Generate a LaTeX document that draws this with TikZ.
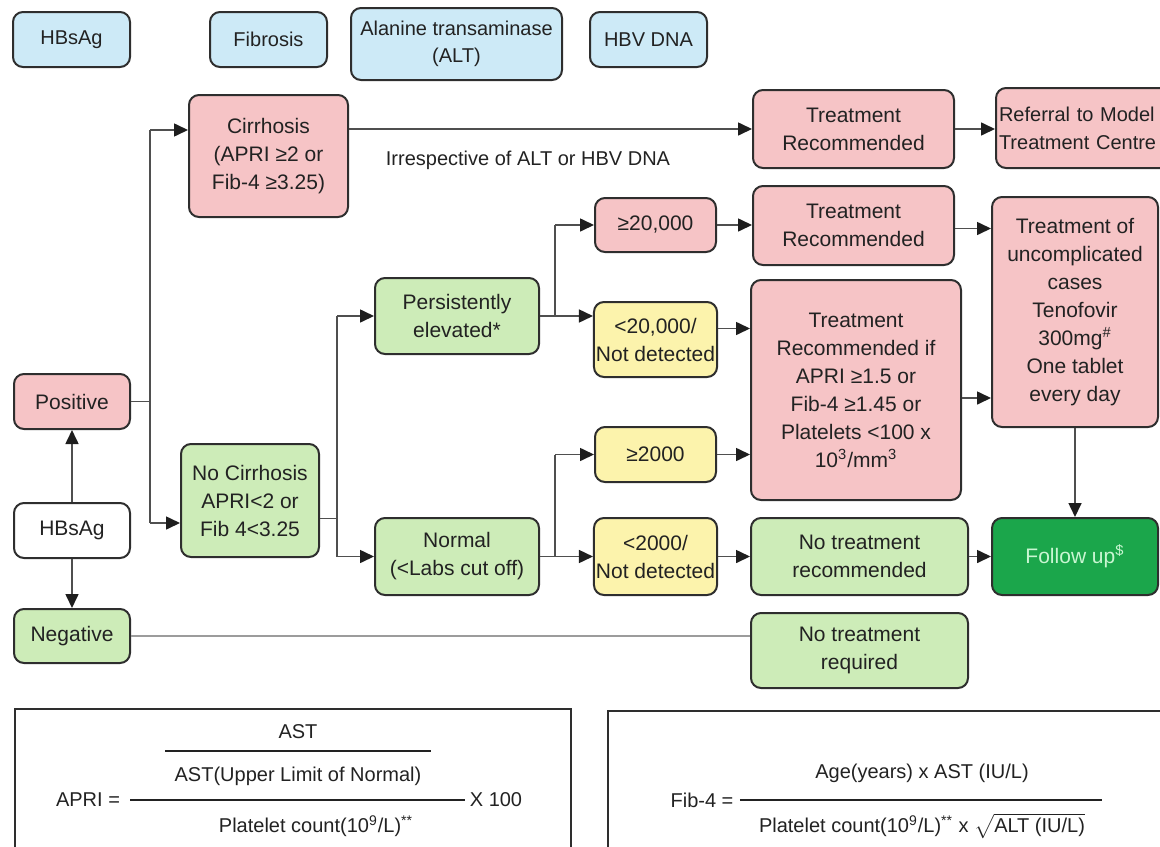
\documentclass[tikz,border=0pt]{standalone}
\usepackage{fontspec}
\setmainfont{Liberation Sans}
\usetikzlibrary{arrows.meta,calc}

\definecolor{hdrblue}{HTML}{CDEAF7}
\definecolor{boxpink}{HTML}{F6C4C6}
\definecolor{boxgreen}{HTML}{CDECB8}
\definecolor{boxyellow}{HTML}{FCF3AC}
\definecolor{fudark}{HTML}{1BA64B}
\definecolor{futext}{HTML}{C9F6D2}
\definecolor{edgec}{HTML}{2E2E2E}
\definecolor{linec}{HTML}{4F4F4F}
\definecolor{lightline}{HTML}{9C9C9C}
\definecolor{txt}{HTML}{222222}
\definecolor{tipc}{HTML}{1E1E1E}

\tikzset{
  box/.style={draw=edgec, line width=1pt, rounded corners=5pt, align=center,
    inner sep=1pt, text=txt, font=\fontsize{10.5}{14}\selectfont},
  hdr/.style={box, fill=hdrblue, font=\fontsize{10}{13.5}\selectfont},
  pinkbox/.style={box, fill=boxpink},
  greenbox/.style={box, fill=boxgreen},
  yellowbox/.style={box, fill=boxyellow},
  wh/.style={box, fill=white},
  arr/.style={draw=linec, line width=0.8pt, -{Triangle[length=7pt,width=6.5pt,fill=tipc,color=tipc]}},
  ln/.style={draw=linec, line width=0.8pt},
  ftext/.style={inner sep=1pt, text=txt, font=\fontsize{10}{12}\selectfont},
  fbar/.style={draw=txt, line width=0.9pt},
  framebox/.style={draw=edgec, line width=1pt, anchor=north west}
}

\begin{document}
\begin{tikzpicture}[x=0.5pt,y=-0.5pt]
\useasboundingbox (0,0) rectangle (1160,846);

% header legend
\node[hdr, minimum width=58.5pt, minimum height=27.5pt] (hA) at (71.5,39.5) {HBsAg};
\node[hdr, minimum width=58.5pt, minimum height=27.5pt] (hF) at (268.5,39.5) {Fibrosis};
\node[hdr, minimum width=105.5pt, minimum height=36pt] (hALT) at (456.5,44) {Alanine transaminase\\(ALT)};
\node[hdr, minimum width=58.5pt, minimum height=27.5pt] (hDNA) at (648.5,39.5) {HBV DNA};

% HBsAg column
\node[pinkbox, minimum width=58pt, minimum height=27.5pt] (pos) at (72,401.5) {Positive};
\node[wh, minimum width=58pt, minimum height=27.5pt] (hbs) at (72,530.5) {HBsAg};
\node[greenbox, minimum width=58pt, minimum height=27pt] (neg) at (72,636) {Negative};

% fibrosis column
\node[pinkbox, minimum width=79.5pt, minimum height=61pt] (cirr) at (268.5,156) {Cirrhosis\\(APRI ≥2 or\\Fib-4 ≥3.25)};
\node[greenbox, minimum width=69pt, minimum height=56.5pt] (nocirr) at (250,500.5) {No Cirrhosis\\APRI<2 or\\Fib 4<3.25};

% ALT column
\node[greenbox, minimum width=82pt, minimum height=38pt] (pers) at (457,316) {Persistently\\elevated*};
\node[greenbox, minimum width=82pt, minimum height=38.5pt] (normal) at (457,556.5) {Normal\\(<Labs cut off)};

% HBV DNA column
\node[pinkbox, minimum width=60.5pt, minimum height=27pt] (ge20k) at (655.5,225) {≥20,000};
\node[yellowbox, minimum width=60.5pt, minimum height=37.5pt] (lt20k) at (655.5,339.5) {<20,000/\\Not detected};
\node[yellowbox, minimum width=60.5pt, minimum height=27.5pt] (ge2k) at (655.5,454.5) {≥2000};
\node[yellowbox, minimum width=60.5pt, minimum height=38.5pt] (lt2k) at (655.5,556.5) {<2000/\\Not detected};

% decisions
\node[pinkbox, minimum width=100.5pt, minimum height=39pt] (tr1) at (853.5,129) {Treatment\\Recommended};
\node[pinkbox, minimum width=100.5pt, minimum height=39.5pt] (tr2) at (853.5,225.5) {Treatment\\Recommended};
\node[pinkbox, minimum width=105pt, minimum height=110pt] (big) at (856,390) {Treatment\\Recommended if\\APRI ≥1.5 or\\Fib-4 ≥1.45 or\\Platelets <100 x\\10\textsuperscript{3}/mm\textsuperscript{3}};
\node[greenbox, minimum width=108.5pt, minimum height=38.5pt] (notrec) at (859.5,556.5) {No treatment\\recommended};
\node[greenbox, minimum width=108.5pt, minimum height=37.5pt] (notreq) at (859.5,650.5) {No treatment\\required};

% outcomes
\node[pinkbox, anchor=west, align=left, text width=85pt, inner xsep=1.5pt, minimum height=40pt,
  font=\fontsize{10}{14}\selectfont] (ref) at (995,128) {Referral to Model\\Treatment Centre};
\node[pinkbox, minimum width=83pt, minimum height=115pt] (treat) at (1075,312) {Treatment of\\uncomplicated\\cases\\Tenofovir\\300mg\textsuperscript{\#}\\One tablet\\every day};
\node[box, fill=fudark, draw=edgec, text=futext, minimum width=83pt, minimum height=38.5pt] (follow) at (1075,556.5) {Follow up\textsuperscript{\$}};

\node[ftext, font=\fontsize{10}{12}\selectfont] (irr) at (528,160) {Irrespective of ALT or HBV DNA};

% junction points
\coordinate (j1top) at (150,130);
\coordinate (j1bot) at (150,523);
\coordinate (j2top) at (337,316);
\coordinate (j2bot) at (337,556.5);
\coordinate (j3top) at (555,225);
\coordinate (j3bot) at (555,316);
\coordinate (j4top) at (555,454.5);
\coordinate (j4bot) at (555,556.5);
\coordinate (bigout) at ($(big.east)+(0,8)$);

% HBsAg result
\draw[arr] (hbs.north) -- (pos.south);
\draw[arr] (hbs.south) -- (neg.north);
\draw[ln] (pos.east) -- (pos.east -| j1top);
\draw[ln] (j1top) -- (j1bot);
\draw[arr] (j1top) -- (cirr.west |- j1top);
\draw[arr] (j1bot) -- (nocirr.west |- j1bot);
\draw[draw=lightline, line width=0.8pt] (neg.east) -- (notreq.west |- neg.east);

% cirrhosis branch
\draw[arr] (cirr.east |- tr1.west) -- (tr1.west);
\draw[arr] (tr1.east) -- (ref.west |- tr1.east);

% no cirrhosis branch
\draw[ln] ($(nocirr.east)+(0,18)$) -- (j2top |- {$(nocirr.east)+(0,18)$});
\draw[ln] (j2top) -- (j2bot);
\draw[arr] (j2top) -- (pers.west);
\draw[arr] (j2bot) -- (normal.west);

% ALT persistently elevated
\draw[ln] (pers.east) -- (j3bot);
\draw[ln] (j3top) -- (j3bot);
\draw[arr] (j3top) -- (ge20k.west);
\draw[arr] (j3bot) -- (lt20k.west |- j3bot);

% ALT normal
\draw[ln] (normal.east) -- (j4bot);
\draw[ln] (j4top) -- (j4bot);
\draw[arr] (j4top) -- (ge2k.west);
\draw[arr] (j4bot) -- (lt2k.west);

% HBV DNA to decisions
\draw[arr] (ge20k.east) -- (tr2.west |- ge20k.east);
\draw[arr] ($(lt20k.east)+(0,-11)$) -- (big.west |- {$(lt20k.east)+(0,-11)$});
\draw[arr] (ge2k.east) -- (big.west |- ge2k.east);
\draw[arr] (lt2k.east) -- (notrec.west);

% decisions to outcomes
\draw[arr] ($(tr2.east)+(0,3)$) -- (treat.west |- {$(tr2.east)+(0,3)$});
\draw[arr] (bigout) -- (treat.west |- bigout);
\draw[arr] (treat.south) -- (follow.north);
\draw[arr] (notrec.east) -- (follow.west);

% APRI formula
\node[framebox, minimum width=278pt, minimum height=95pt] (apribox) at (14,708) {};
\node[ftext] (apri) at (88,800) {APRI =};
\node[ftext] (x100) at (496,800) {X 100};
\node[ftext] (ast) at (298,732) {AST};
\node[ftext] (uln) at (298,776) {AST(Upper Limit of Normal)};
\node[ftext] (plt) at (316,826) {Platelet count(10\textsuperscript{9}/L)\textsuperscript{**}};
\draw[fbar, shorten <=4pt, shorten >=1pt] (apri.east) -- (x100.west);
\draw[fbar] (165,751) -- (431,751);

% Fib-4 formula
\node[framebox, minimum width=285pt, minimum height=95pt] (fibbox) at (607,710) {};
\node[ftext] (fib) at (702,800) {Fib-4 =};
\coordinate (fibend) at (1102,800);
\node[ftext] (fibnum) at (922,773) {Age(years) x AST (IU/L)};
\node[ftext] (fibden) at (922,826) {Platelet count(10\textsuperscript{9}/L)\textsuperscript{**} x $\sqrt{\hbox{ALT (IU/L)}}$};
\draw[fbar, shorten <=2pt] (fib.east) -- (fibend);

\end{tikzpicture}
\end{document}
